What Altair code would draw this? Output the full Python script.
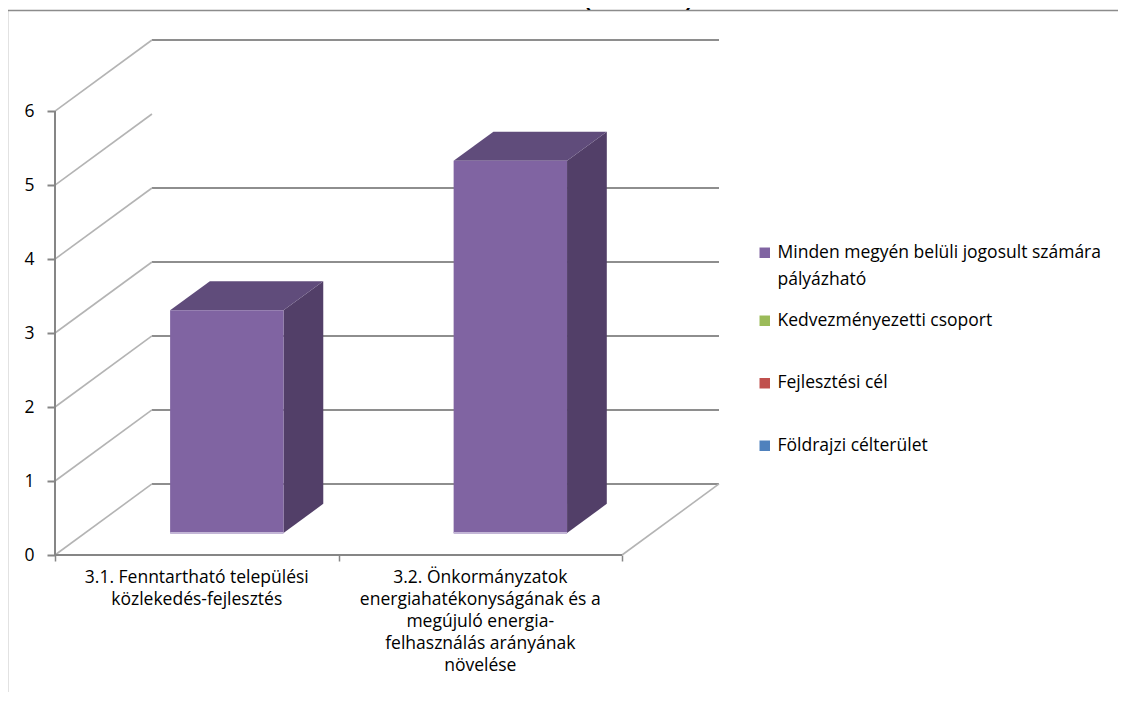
import altair as alt
import pandas as pd

# ---------------- data ----------------
categories = [
    "3.1. Fenntartható  települési\nközlekedés-fejlesztés",
    "3.2. Önkormányzatok\nenergiahatékonyságának és a\nmegújuló energia-\nfelhasználás arányának\nnövelése",
]
values = [3.01, 5.03]          # "Minden megyén belüli jogosult számára pályázható"
other_values = [0.0, 0.0]      # remaining series (no visible bars)
series = [
    "Minden megyén belüli jogosult  számára pályázható",
    "Kedvezményezetti csoport",
    "Fejlesztési cél",
    "Földrajzi célterület",
]
series_colors = ["#8064A2", "#9BBB59", "#C0504D", "#4F81BD"]
y_ticks = [0, 1, 2, 3, 4, 5, 6]
back_wall_levels = [0, 1, 2, 3, 4, 6]
title_text = "intézkedésenként (milliárd Ft)"

# ---------------- 3D geometry (style constants) ----------------
DX = 0.342      # depth offset in category units
DY = 0.96       # depth offset in value units
BF, BB = 0.31, 0.72   # bar front/back depth fractions
HALF = 0.2
NCAT = len(categories)
XMAX = NCAT + DX
YMAX = max(y_ticks) + DY

FONT = "Open Sans"
FS = 17.5
W, H = 664, 515

xs = alt.Scale(domain=[0, XMAX], nice=False, zero=False)
ys = alt.Scale(domain=[0, YMAX], nice=False, zero=False)

# walls
left_diag = pd.DataFrame({"x": [0.0] * len(y_ticks), "x2": [DX] * len(y_ticks),
                          "y": y_ticks, "y2": [t + DY for t in y_ticks]})
back_lines = pd.DataFrame({"x": [DX] * len(back_wall_levels),
                           "x2": [NCAT + DX] * len(back_wall_levels),
                           "y": [t + DY for t in back_wall_levels]})
floor_diag = pd.DataFrame({"x": [float(NCAT)], "x2": [NCAT + DX], "y": [0.0], "y2": [DY]})
axis_lines = pd.DataFrame({"x": [0.0, 0.0], "x2": [float(NCAT), 0.0],
                           "y": [0.0, 0.0], "y2": [0.0, float(max(y_ticks))]})

# bars
front_rows, side_rows, top_rows, base_rows, other_rows = [], [], [], [], []
for i, v in enumerate(values):
    c = i + 0.5
    fx, fy = BF * DX, BF * DY
    bx, by = BB * DX, BB * DY
    front_rows.append({"x": c - HALF + fx, "x2": c + HALF + fx, "y": fy, "y2": v + fy,
                       "series": series[0], "cat": categories[i].replace("\n", " "), "value": v})
    base_rows.append({"x": c - HALF + fx, "x2": c + HALF + fx, "y": fy})
    side_rows += [{"bar": i, "x": c + HALF + fx, "y": v + fy, "y2": fy},
                  {"bar": i, "x": c + HALF + bx, "y": v + by, "y2": by}]
    top_rows += [{"bar": i, "y": v + fy, "x": c - HALF + fx, "x2": c + HALF + fx},
                 {"bar": i, "y": v + by, "x": c - HALF + bx, "x2": c + HALF + bx}]
    for s in series[1:]:
        other_rows.append({"x": c - HALF + fx, "x2": c + HALF + fx, "y": fy,
                           "y2": other_values[i] + fy, "series": s})
front = pd.DataFrame(front_rows)
side = pd.DataFrame(side_rows)
top = pd.DataFrame(top_rows)
base = pd.DataFrame(base_rows)
others = pd.DataFrame(other_rows)
labels = pd.DataFrame({"x": [i + 0.5 for i in range(NCAT)], "y": [0.0] * NCAT, "label": categories})

# ---------------- layers ----------------
frame = alt.Chart(pd.DataFrame({"k": [0]})).mark_rect(
    fillOpacity=0, stroke="#8c8c8c", strokeWidth=1.5
).encode(x=alt.value(-47.5), x2=alt.value(1200), y=alt.value(-29.5), y2=alt.value(800))

title = alt.Chart(pd.DataFrame({"t": [title_text]})).mark_text(
    font="Liberation Sans", fontWeight="bold", fontSize=20, baseline="bottom", align="center", color="black"
).encode(x=alt.value(497), y=alt.value(-30), text="t:N")

diag = alt.Chart(left_diag).mark_rule(color="#b4b4b4", strokeWidth=1.6).encode(
    x=alt.X("x:Q", scale=xs, axis=alt.Axis(values=[0, 1, 2], labels=False, domain=False, grid=False,
                                            ticks=True, tickSize=6, tickColor="#868686", tickWidth=1.5, title=None)),
    x2="x2:Q",
    y=alt.Y("y:Q", scale=ys, axis=alt.Axis(values=y_ticks, format="d", domain=False, grid=False, ticks=True,
                                            tickSize=8, tickColor="#868686", tickWidth=2, labelPadding=13,
                                            labelFont=FONT, labelFontSize=FS, labelColor="black", title=None)),
    y2="y2:Q",
)
back = alt.Chart(back_lines).mark_rule(color="#8e8e8e", strokeWidth=2).encode(
    x=alt.X("x:Q", scale=xs), x2="x2:Q", y=alt.Y("y:Q", scale=ys))
floor = alt.Chart(floor_diag).mark_rule(color="#b4b4b4", strokeWidth=1.6).encode(
    x=alt.X("x:Q", scale=xs), x2="x2:Q", y=alt.Y("y:Q", scale=ys), y2="y2:Q")
axes = alt.Chart(axis_lines).mark_rule(color="#868686", strokeWidth=2).encode(
    x=alt.X("x:Q", scale=xs), x2="x2:Q", y=alt.Y("y:Q", scale=ys), y2="y2:Q")

side_l = alt.Chart(side).mark_area(orient="vertical", color="#523F68").encode(
    x=alt.X("x:Q", scale=xs), y=alt.Y("y:Q", scale=ys), y2="y2:Q", detail="bar:N")
top_l = alt.Chart(top).mark_area(orient="horizontal", color="#604C7B").encode(
    y=alt.Y("y:Q", scale=ys), x=alt.X("x:Q", scale=xs), x2="x2:Q", detail="bar:N")


def legend(y, row_pad=0, expr=None):
    kw = dict(orient="none", legendX=701, legendY=y, title=None,
              symbolType="square", symbolSize=110, symbolStrokeWidth=0,
              labelFont=FONT, labelFontSize=FS, labelColor="black",
              labelLimit=0, rowPadding=row_pad, labelBaseline="middle", labelOffset=4)
    if expr:
        kw["labelExpr"] = expr
    return alt.Legend(**kw)


# first entry wraps onto two lines
label_expr = ("datum.label == '" + series[0] +
              "' ? ['Minden megyén belüli jogosult  számára', 'pályázható'] : datum.label")
front_l = alt.Chart(front).mark_rect().encode(
    x=alt.X("x:Q", scale=xs), x2="x2:Q", y=alt.Y("y:Q", scale=ys), y2="y2:Q",
    color=alt.Color("series:N", scale=alt.Scale(domain=series[:1], range=series_colors[:1]),
                    legend=legend(204, 0, label_expr)),
    tooltip=["cat:N", "value:Q"],
)
others_l = alt.Chart(others).mark_rect(opacity=0).encode(
    x=alt.X("x:Q", scale=xs), x2="x2:Q", y=alt.Y("y:Q", scale=ys), y2="y2:Q",
    color=alt.Color("series:N", scale=alt.Scale(domain=series[1:], range=series_colors[1:]),
                    legend=legend(272, 43.5)),
)
base_l = alt.Chart(base).mark_rule(color="#c3b6d6", strokeWidth=2).encode(
    x=alt.X("x:Q", scale=xs), x2="x2:Q", y=alt.Y("y:Q", scale=ys))

xlabels = alt.Chart(labels).mark_text(
    font=FONT, fontSize=FS, baseline="top", align="center", dy=14, lineBreak="\n", lineHeight=22, color="black"
).encode(x=alt.X("x:Q", scale=xs), y=alt.Y("y:Q", scale=ys), text="label:N")

chart = alt.layer(
    frame, title, back, diag, floor, axes, side_l, top_l, others_l, front_l, base_l, xlabels
).resolve_scale(color="independent").properties(
    width=W, height=H,
    autosize=alt.AutoSizeParams(type="none"),
    padding={"left": 47, "top": 32, "right": 399, "bottom": 137},
    background="white",
).configure(
    style={"guide-label": {"lineHeight": 27}}
).configure_view(stroke=None)

chart.save("out.html", embed_options={"renderer": "svg", "actions": False})
